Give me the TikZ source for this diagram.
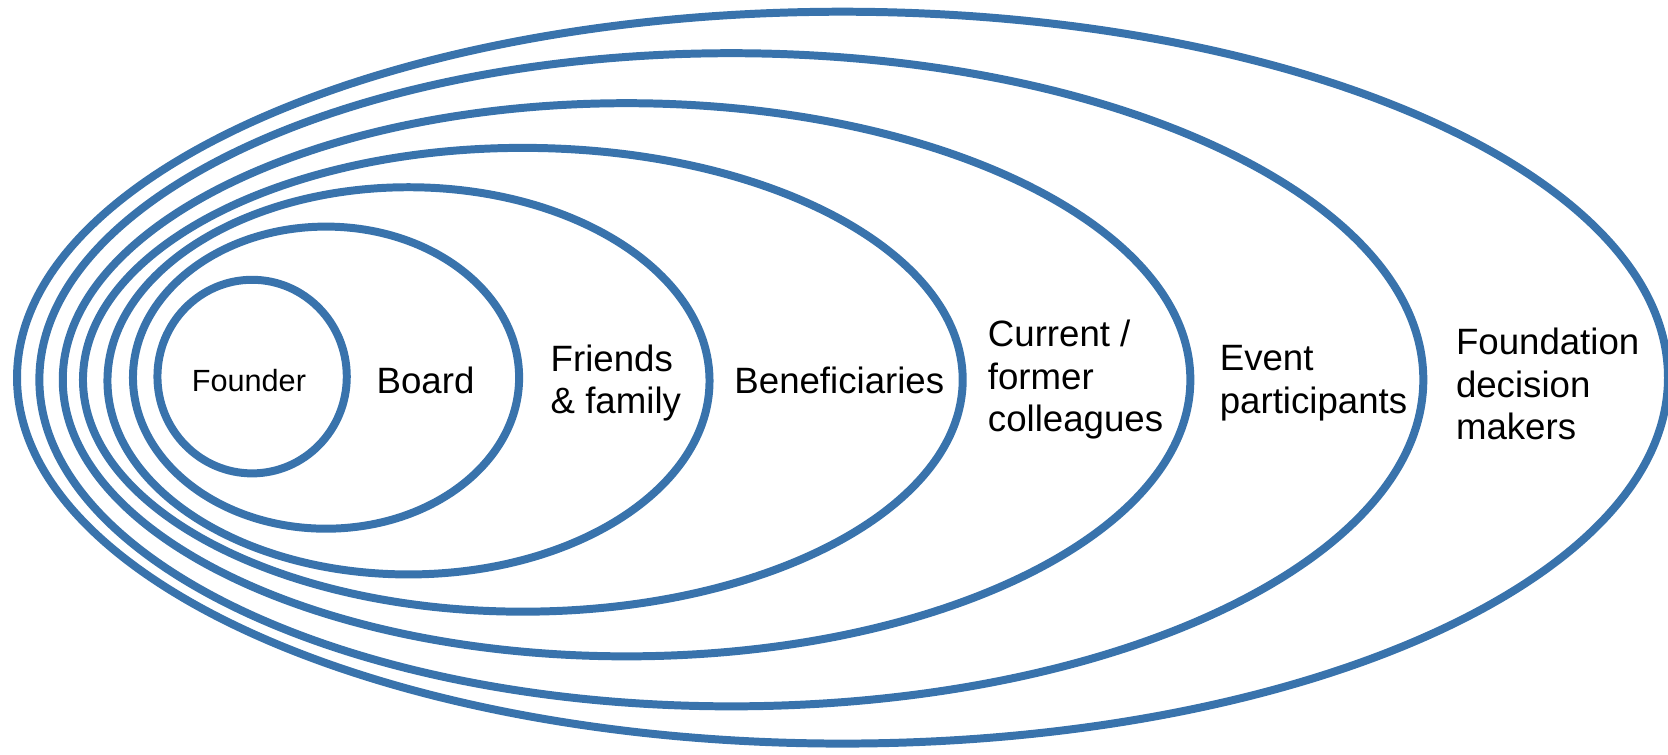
\documentclass[tikz,border=0pt]{standalone}
\usepackage{fontspec}
\setmainfont{Liberation Sans}
\usetikzlibrary{shapes.geometric}
\definecolor{ringblue}{RGB}{57,115,172}
\begin{document}
\begin{tikzpicture}[x=0.1mm,y=-0.1mm,
  ring/.style={draw=ringblue, line width=0.75mm, ellipse, inner sep=0pt, outer sep=0pt},
  lbl/.style={font=\fontsize{9.8}{11.4}\selectfont, align=left, inner sep=0pt, text=black},
  smalllbl/.style={font=\fontsize{8.2}{10}\selectfont, inner sep=0pt, text=black}]
\useasboundingbox (0,0) rectangle (1568,709);
\node[ring, minimum width=155.2mm, minimum height=68.8mm] (r7) at (792,355) {};
\node[ring, minimum width=130.1mm, minimum height=61.4mm] (r6) at (687.5,357) {};
\node[ring, minimum width=106mm, minimum height=52mm] (r5) at (589,357) {};
\node[ring, minimum width=82.7mm, minimum height=43.6mm] (r4) at (491.5,357) {};
\node[ring, minimum width=56.6mm, minimum height=36.4mm] (r3) at (384,358) {};
\node[ring, minimum width=36.3mm, minimum height=28.4mm] (r2) at (306.5,355) {};
\node[ring, minimum width=17.8mm, minimum height=18.2mm] (r1) at (237,354) {};
\node[smalllbl] (t1) at (234,358) {Founder};
\node[lbl] (t2) at (400,358) {Board};
\node[lbl, anchor=west] (t3) at (517,360) {Friends\\\& family};
\node[lbl] (t4) at (789,358) {Beneficiaries};
\node[lbl, anchor=west] (t5) at (928,357) {Current /\\former\\colleagues};
\node[lbl, anchor=west] (t6) at (1146,360) {Event\\participants};
\node[lbl, anchor=west] (t7) at (1368,361) {Foundation\\decision\\makers};
\end{tikzpicture}
\end{document}
